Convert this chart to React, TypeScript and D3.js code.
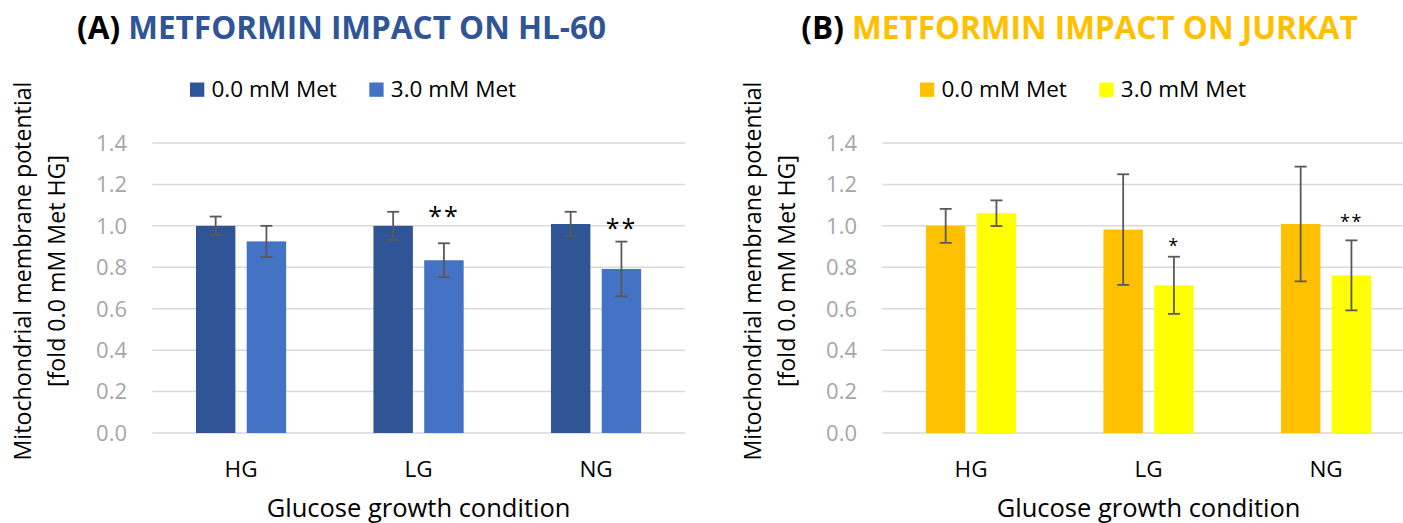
import React from "react";
import * as d3 from "d3";

const categories = ["HG", "LG", "NG"];
const seriesNames = ["0.0 mM Met", "3.0 mM Met"];
const yTicks = [0, 0.2, 0.4, 0.6, 0.8, 1.0, 1.2, 1.4];

const hl60Met0 = [1.0, 1.0, 1.009];
const hl60Met0Err = [0.045, 0.068, 0.059];
const hl60Met3 = [0.925, 0.834, 0.792];
const hl60Met3Err = [0.075, 0.082, 0.132];
const hl60Sig = ["", "**", "**"];
const hl60SigY = [0, 1.072, 1.012];

const jurkatMet0 = [1.0, 0.982, 1.009];
const jurkatMet0Err = [0.082, 0.267, 0.277];
const jurkatMet3 = [1.061, 0.713, 0.761];
const jurkatMet3Err = [0.062, 0.138, 0.169];
const jurkatSig = ["", "*", "**"];
const jurkatSigY = [0, 0.92, 1.036];

const FONT = "'Open Sans', 'Noto Sans', sans-serif";

type PanelProps = {
  dx: number;
  label: string;
  title: string;
  titleColor: string;
  titleX: number;
  colors: string[];
  values: number[][];
  errors: number[][];
  sig: string[];
  sigY: number[];
  sigSize: number;
};

function Panel(p: PanelProps) {
  const left = 152.3 + p.dx;
  const width = 532.5;
  const y = d3.scaleLinear().domain([0, 1.4]).range([433, 143]);
  const x0 = d3.scaleBand<string>().domain(categories).range([left, left + width]).padding(0);
  const band = x0.bandwidth();
  const x1 = d3
    .scaleBand<string>()
    .domain(seriesNames)
    .range([band / 2 - 45.1, band / 2 + 45.1])
    .paddingInner(0.223)
    .paddingOuter(0);
  const bw = x1.bandwidth();
  const legendSquareX = [190 + p.dx, 369.3 + p.dx];

  return (
    <g>
      <text x={p.titleX} y={39} textAnchor="middle" fontFamily={FONT} fontWeight={700} fontSize={31.5}>
        <tspan fill="#000">{p.label} </tspan>
        <tspan fill={p.titleColor}>{p.title}</tspan>
      </text>
      {seriesNames.map((s, i) => (
        <g key={s}>
          <rect x={legendSquareX[i]} y={82.5} width={14.3} height={14.3} fill={p.colors[i]} />
          <text x={legendSquareX[i] + 21.5} y={97} fontFamily={FONT} fontSize={22.5} fill="#000">
            {s}
          </text>
        </g>
      ))}
      {yTicks.map((t) => (
        <g key={t}>
          <line x1={left} x2={left + width} y1={y(t)} y2={y(t)} stroke="#d9d9d9" strokeWidth={1.5} />
          <text x={127 + p.dx} y={y(t) + 7.8} textAnchor="end" fontFamily={FONT} fontSize={22} fill="#a6a6a6">
            {d3.format(".1f")(t)}
          </text>
        </g>
      ))}
      {categories.map((c, ci) => (
        <g key={c} transform={`translate(${x0(c)},0)`}>
          {seriesNames.map((s, si) => {
            const v = p.values[si][ci];
            const e = p.errors[si][ci];
            const cx = (x1(s) as number) + bw / 2;
            return (
              <g key={s}>
                <rect x={x1(s)} y={y(v)} width={bw} height={y(0) - y(v)} fill={p.colors[si]} />
                <line x1={cx} x2={cx} y1={y(v + e)} y2={y(v - e)} stroke="#595959" strokeWidth={1.8} />
                <line x1={cx - 6} x2={cx + 6} y1={y(v + e)} y2={y(v + e)} stroke="#595959" strokeWidth={1.8} />
                <line x1={cx - 6} x2={cx + 6} y1={y(v - e)} y2={y(v - e)} stroke="#595959" strokeWidth={1.8} />
              </g>
            );
          })}
          {p.sig[ci] ? (
            <text
              x={(x1(seriesNames[1]) as number) + bw / 2}
              y={y(p.sigY[ci]) + p.sigSize * 0.55}
              textAnchor="middle"
              fontFamily={FONT}
              fontSize={p.sigSize}
              letterSpacing={p.sigSize * 0.08}
              fill="#000"
            >
              {p.sig[ci]}
            </text>
          ) : null}
          <text x={band / 2} y={476.5} textAnchor="middle" fontFamily={FONT} fontSize={22.5} fill="#000">
            {c}
          </text>
        </g>
      ))}
      <text x={left + width / 2} y={517} textAnchor="middle" fontFamily={FONT} fontSize={25.5} fill="#000">
        Glucose growth condition
      </text>
      <text transform={`translate(${31 + p.dx},271) rotate(-90)`} textAnchor="middle" fontFamily={FONT} fontSize={23.2} fill="#000">
        Mitochondrial membrane potential
      </text>
      <text transform={`translate(${65 + p.dx},271) rotate(-90)`} textAnchor="middle" fontFamily={FONT} fontSize={23.2} fill="#000">
        [fold 0.0 mM Met HG]
      </text>
    </g>
  );
}

export default function App() {
  return (
    <svg
      width={1403}
      height={523}
      viewBox="0 0 1403 523"
      style={{ position: "absolute", left: 0, top: 0, background: "#fff" }}
    >
      <rect x={0} y={0} width={1403} height={523} fill="#fff" />
      <Panel
        dx={0}
        label="(A)"
        title="METFORMIN IMPACT ON HL-60"
        titleColor="#2f5597"
        titleX={341.5}
        colors={["#2f5597", "#4472c4"]}
        values={[hl60Met0, hl60Met3]}
        errors={[hl60Met0Err, hl60Met3Err]}
        sig={hl60Sig}
        sigY={hl60SigY}
        sigSize={25}
      />
      <Panel
        dx={730}
        label="(B)"
        title="METFORMIN IMPACT ON JURKAT"
        titleColor="#ffc000"
        titleX={1079.5}
        colors={["#ffc000", "#ffff00"]}
        values={[jurkatMet0, jurkatMet3]}
        errors={[jurkatMet0Err, jurkatMet3Err]}
        sig={jurkatSig}
        sigY={jurkatSigY}
        sigSize={18}
      />
    </svg>
  );
}
